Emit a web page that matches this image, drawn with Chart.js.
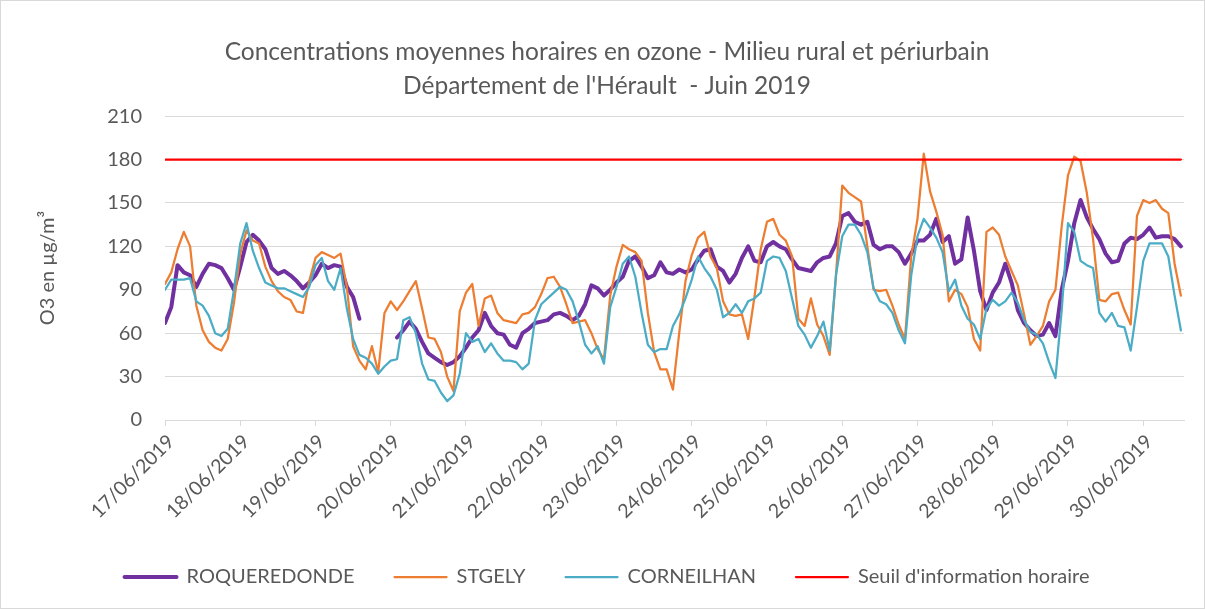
<!DOCTYPE html>
<html>
<head>
  <meta charset="utf-8">
  <title>Ozone - Hérault - Juin 2019</title>
  <style>
    html, body { margin: 0; padding: 0; background: #fff; }
    #wrap { width: 1205px; height: 609px; }
  </style>
</head>
<body>
  <div id="wrap"><canvas id="chart" width="1205" height="609"></canvas></div>

  <script src="https://cdn.jsdelivr.net/npm/chart.js"></script>
  <script>
    // one label per day, placed every 24 h
    const dayLabels = ['17/06/2019', '18/06/2019', '19/06/2019', '20/06/2019', '21/06/2019',
      '22/06/2019', '23/06/2019', '24/06/2019', '25/06/2019', '26/06/2019', '27/06/2019',
      '28/06/2019', '29/06/2019', '30/06/2019'];
    const dayHours = dayLabels.map((_, i) => i * 24);

    // samples every 2 hours since 17/06/2019 00h (163 of them)
    const hours = Array.from({ length: 163 }, (_, i) => i * 2);

    // values, one row per day (12 samples)
    const roqueredonde = [
      67, 78, 107, 102, 100, 92, 101, 108, 107, 105, 98, 90,
      106, 123, 128, 124, 118, 105, 101, 103, 100, 96, 91, 95,
      100, 108, 105, 107, 106, 92, 85, 70, null, null, null, null,
      null, 57, 62, 68, 63, 54, 46, 43, 40, 38, 40, 44,
      50, 57, 62, 74, 65, 60, 59, 52, 50, 60, 63, 67,
      68, 69, 73, 74, 72, 69, 72, 80, 93, 91, 86, 90,
      95, 99, 110, 113, 106, 98, 100, 109, 102, 101, 104, 102,
      104, 111, 117, 118, 106, 103, 95, 101, 112, 120, 110, 109,
      120, 123, 120, 118, 111, 105, 104, 103, 109, 112, 113, 122,
      141, 143, 137, 135, 137, 121, 118, 120, 120, 116, 108, 115,
      124, 124, 128, 139, 123, 127, 108, 111, 140, 117, 89, 76,
      88, 95, 108, 95, 76, 67, 62, 58, 59, 67, 58, 90,
      110, 136, 152, 140, 132, 125, 115, 109, 110, 122, 126, 125,
      128, 133, 126, 127, 127, 125, 120
    ];
    const stgely = [
      94, 102, 118, 130, 120, 79, 62, 54, 50, 48, 56, 81,
      115, 131, 124, 122, 106, 96, 89, 85, 83, 75, 74, 96,
      112, 116, 114, 112, 115, 92, 51, 41, 35, 51, 33, 74,
      82, 76, 82, 89, 96, 77, 57, 56, 47, 30, 20, 75,
      88, 94, 65, 84, 86, 74, 69, 68, 67, 73, 74, 78,
      87, 98, 99, 92, 80, 67, 68, 69, 60, 49, 42, 86,
      106, 121, 118, 116, 110, 74, 47, 35, 35, 21, 60, 96,
      114, 126, 130, 113, 105, 82, 73, 72, 73, 56, 85, 118,
      137, 139, 128, 124, 113, 70, 65, 84, 66, 58, 45, 100,
      162, 157, 154, 151, 120, 90, 89, 90, 79, 66, 56, 113,
      139, 184, 158, 144, 128, 82, 90, 87, 78, 56, 48, 130,
      133, 128, 113, 103, 93, 73, 52, 58, 65, 82, 90, 134,
      169, 182, 179, 157, 125, 83, 82, 87, 88, 76, 66, 141,
      152, 150, 152, 146, 143, 108, 86
    ];
    const corneilhan = [
      90, 97, 97, 97, 98, 82, 79, 72, 60, 58, 63, 90,
      122, 136, 117, 105, 95, 93, 91, 91, 89, 87, 85, 92,
      107, 112, 96, 90, 105, 77, 56, 45, 43, 39, 32, 37,
      41, 42, 69, 71, 60, 39, 28, 27, 19, 13, 17, 32,
      60, 54, 56, 47, 53, 46, 41, 41, 40, 35, 39, 69,
      80, 84, 88, 92, 90, 82, 68, 52, 46, 51, 39, 78,
      92, 108, 113, 99, 74, 52, 47, 49, 49, 65, 73, 84,
      97, 113, 105, 99, 90, 71, 74, 80, 74, 82, 84, 88,
      110, 113, 112, 103, 84, 65, 59, 50, 58, 68, 48, 100,
      127, 135, 135, 128, 116, 91, 82, 80, 74, 62, 53, 100,
      127, 139, 133, 126, 116, 89, 97, 79, 70, 66, 56, 77,
      83, 79, 82, 88, 81, 69, 61, 59, 53, 40, 29, 76,
      136, 130, 110, 107, 105, 74, 68, 74, 65, 64, 48, 78,
      110, 122, 122, 122, 113, 86, 62
    ];
    const seuil = 180;

    const yTicks = [0, 30, 60, 90, 120, 150, 180, 210];

    const textColor = '#595959';
    const gridColor = '#d9d9d9';
    const fontFamily = 'Lato, "Open Sans", sans-serif';

    function toPoints(values) {
      return values.map((v, i) => ({ x: hours[i], y: v }));
    }

    const frame = {
      id: 'frame',
      afterDraw(chart) {
        const ctx = chart.ctx;
        ctx.save();
        ctx.strokeStyle = gridColor;
        ctx.lineWidth = 1;
        ctx.strokeRect(0.5, 0.5, chart.width - 1, chart.height - 1);
        ctx.restore();
      }
    };

    new Chart(document.getElementById('chart'), {
      type: 'line',
      data: {
        datasets: [
          {
            label: 'ROQUEREDONDE',
            data: toPoints(roqueredonde),
            borderColor: '#7030a0',
            backgroundColor: '#7030a0',
            borderWidth: 4,
            order: 4
          },
          {
            label: 'STGELY',
            data: toPoints(stgely),
            borderColor: '#ed7d31',
            backgroundColor: '#ed7d31',
            borderWidth: 2.25,
            order: 3
          },
          {
            label: 'CORNEILHAN',
            data: toPoints(corneilhan),
            borderColor: '#4bacc6',
            backgroundColor: '#4bacc6',
            borderWidth: 2.25,
            order: 2
          },
          {
            label: "Seuil d'information horaire",
            data: [{ x: hours[0], y: seuil }, { x: hours[hours.length - 1], y: seuil }],
            borderColor: '#ff0000',
            backgroundColor: '#ff0000',
            borderWidth: 2.25,
            order: 1
          }
        ]
      },
      options: {
        responsive: false,
        animation: false,
        devicePixelRatio: 1,
        spanGaps: false,
        elements: {
          point: { radius: 0, hoverRadius: 0 },
          line: { tension: 0, borderJoinStyle: 'round', borderCapStyle: 'round', fill: false }
        },
        layout: { padding: { left: 30, right: 21, top: 10, bottom: 12 } },
        plugins: {
          title: {
            display: true,
            text: ['Concentrations moyennes horaires en ozone - Milieu rural et périurbain',
              "Département de l'Hérault  - Juin 2019"],
            color: textColor,
            font: { family: fontFamily, size: 24.5, weight: 'normal', lineHeight: 1.39 },
            padding: { top: 25, bottom: 13 }
          },
          legend: {
            position: 'bottom',
            labels: {
              color: textColor,
              font: { family: fontFamily, size: 20 },
              boxWidth: 52,
              boxHeight: 0,
              padding: 40,
              sort: (a, b) => a.datasetIndex - b.datasetIndex
            }
          },
          tooltip: { enabled: false }
        },
        scales: {
          x: {
            type: 'linear',
            min: 0,
            max: 325,
            afterBuildTicks(scale) {
              scale.ticks = dayHours.map(v => ({ value: v }));
            },
            ticks: {
              autoSkip: false,
              maxRotation: 45,
              minRotation: 45,
              color: textColor,
              font: { family: fontFamily, size: 19.5 },
              padding: 4,
              labelOffset: 6,
              callback: (value, index) => dayLabels[index]
            },
            grid: {
              drawOnChartArea: false,
              drawTicks: true,
              tickLength: 6,
              color: gridColor
            },
            border: { display: true, color: gridColor, width: 1 }
          },
          y: {
            min: 0,
            max: 210,
            afterBuildTicks(scale) {
              scale.ticks = yTicks.map(v => ({ value: v }));
            },
            afterFit(scale) {
              scale.width = 135;
            },
            title: {
              display: true,
              text: 'O3 en µg/m³',
              color: textColor,
              font: { family: fontFamily, size: 20 },
              padding: { top: 6, bottom: 6 }
            },
            ticks: {
              color: textColor,
              font: { family: fontFamily, size: 20 },
              padding: 23
            },
            grid: {
              color: gridColor,
              drawTicks: false,
              lineWidth: 1
            },
            border: { display: false }
          }
        }
      },
      plugins: [frame]
    });
  </script>
</body>
</html>
